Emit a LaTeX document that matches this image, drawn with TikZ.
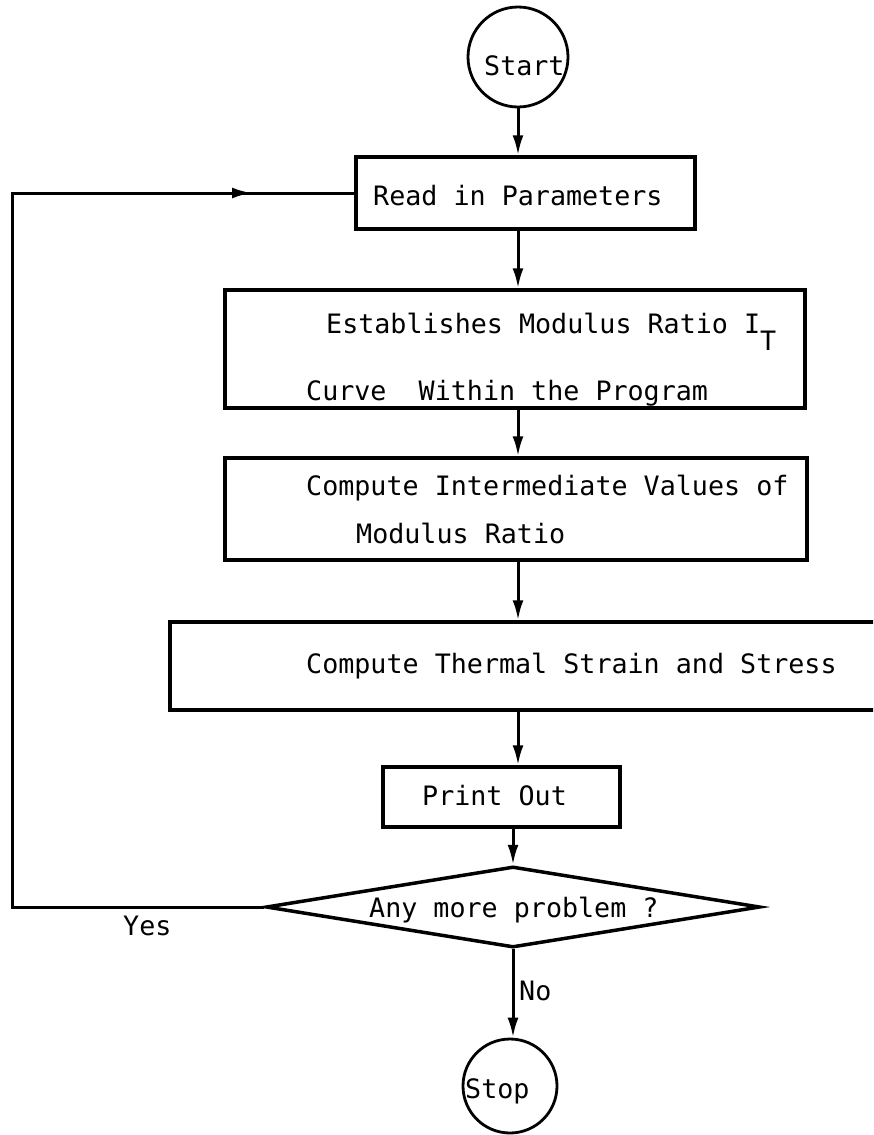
\documentclass[tikz,border=0pt]{standalone}
\usepackage{fontspec}
\newfontfamily\typewr{DejaVu Sans Mono}
\usetikzlibrary{arrows.meta,shapes.geometric}
\begin{document}
\begin{tikzpicture}[x=1pt,y=-1pt,
  box/.style={draw, line width=3.5pt, rectangle, inner sep=0pt},
  term/.style={draw, line width=2.8pt, circle, inner sep=0pt, minimum size=#1},
  txt/.style={anchor=base west, inner sep=0pt, font=\typewr\fontsize{26.7}{32}\selectfont},
  flow/.style={line width=3pt, -{Latex[length=20pt,width=11pt]}},
  plain/.style={line width=3pt}]
\clip (0,0) rectangle (873,1135);
\fill[white] (0,0) rectangle (873,1135);
% nodes
\node[term=100pt] (start) at (518,57) {};
\node[txt] (tstart) at (484,75) {Start};
\node[box, minimum width=339pt, minimum height=72pt] (read) at (525.5,193) {};
\node[txt] (tread) at (373,205) {Read in Parameters};
\node[box, minimum width=580pt, minimum height=118pt] (estab) at (515,349) {};
\node[txt] (testab1) at (326,333) {Establishes Modulus Ratio I\raisebox{-17pt}{T}};
\node[txt] (testab2) at (306,400) {Curve\ \ Within the Program};
\node[box, minimum width=582pt, minimum height=102pt] (inter) at (516,509) {};
\node[txt] (tinter1) at (306,495) {Compute Intermediate Values of};
\node[txt] (tinter2) at (356,543) {Modulus Ratio};
\node[box, minimum width=715pt, minimum height=88pt] (therm) at (527.5,666) {};
\node[txt] (ttherm) at (306,673) {Compute Thermal Strain and Stress};
\node[box, minimum width=237pt, minimum height=60pt] (print) at (501.5,797) {};
\node[txt] (tprint) at (422,805) {Print Out};
\node[draw, diamond, line width=3.5pt, inner sep=0pt, minimum width=494pt, minimum height=81pt] (dec) at (513,907) {};
\node[txt] (tdec) at (369,917) {Any more problem ?};
\node[term=94pt] (stop) at (510,1086) {};
\node[txt] (tstop) at (465,1098) {Stop};
\node[txt] (tyes) at (123,935) {Yes};
\node[txt] (tno) at (519,1000) {No};
% connectors
\coordinate (col) at (518,0);
\coordinate (loopx) at (12,0);
\coordinate (loopmid) at (252,193);
\draw[flow] (start.south) -- (read.north -| start.south);
\draw[flow] (read.south -| col) -- (estab.north -| col);
\draw[flow] (estab.south -| col) -- (inter.north -| col);
\draw[flow] (inter.south -| col) -- (therm.north -| col);
\draw[flow] (therm.south -| col) -- (print.north -| col);
\draw[flow] (print.south -| dec.north) -- (dec.north);
\draw[flow] (dec.south) -- (dec.south |- stop.north);
\draw[plain] (dec.west) -| (loopx |- read.west) -- (read.west);
\draw[flow] (loopx |- read.west) -- (loopmid);
\end{tikzpicture}
\end{document}
